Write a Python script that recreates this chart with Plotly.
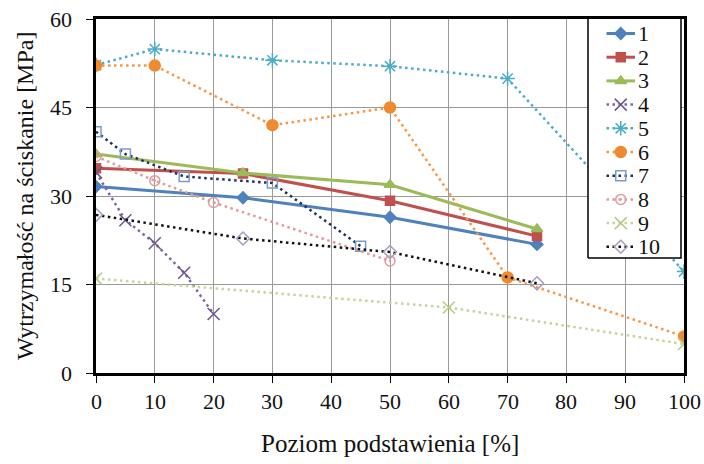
import plotly.graph_objects as go

# Substitution level [%] and compressive strength [MPa] for each mix series
x_1 = [0, 25, 50, 75]
y_1 = [31.6, 29.7, 26.4, 21.8]
x_2 = [0, 25, 50, 75]
y_2 = [34.7, 33.8, 29.2, 23.2]
x_3 = [0, 25, 50, 75]
y_3 = [37.1, 33.9, 31.9, 24.4]
x_4 = [0, 5, 10, 15, 20]
y_4 = [34.0, 25.9, 22.0, 17.0, 10.0]
x_5 = [0, 10, 30, 50, 70, 100]
y_5 = [52.2, 54.9, 53.0, 52.0, 49.9, 17.2]
x_6 = [0, 10, 30, 50, 70, 100]
y_6 = [52.1, 52.1, 42.0, 45.0, 16.2, 6.2]
x_7 = [0, 5, 15, 30, 45]
y_7 = [40.9, 37.1, 33.3, 32.2, 21.5]
x_8 = [0, 10, 20, 50]
y_8 = [36.7, 32.6, 28.9, 19.0]
x_9 = [0, 60, 100]
y_9 = [16.0, 11.1, 4.9]
x_10 = [0, 25, 50, 75]
y_10 = [26.8, 22.8, 20.5, 15.2]

series_names = ["1", "2", "3", "4", "5", "6", "7", "8", "9", "10"]
x_ticks = [0, 10, 20, 30, 40, 50, 60, 70, 80, 90, 100]
y_ticks = [0, 15, 30, 45, 60]
x_title = "Poziom podstawienia [%]"
y_title = "Wytrzymałość na ściskanie [MPa]"

xs_all = [x_1, x_2, x_3, x_4, x_5, x_6, x_7, x_8, x_9, x_10]
ys_all = [y_1, y_2, y_3, y_4, y_5, y_6, y_7, y_8, y_9, y_10]

# line colour, dash, marker symbol, marker colour, marker size
styles = [
    ("#4F81BD", "solid", "diamond", "#4F81BD", 9),
    ("#C0504D", "solid", "square", "#C0504D", 9),
    ("#9BBB59", "solid", "triangle-up", "#9BBB59", 10),
    ("#8064A2", "dot", "x-thin-open", "#6B5690", 12),
    ("#4BACC6", "dot", "asterisk-open", "#4BACC6", 12),
    ("#F79646", "dot", "circle", "#F08A30", 11),
    ("#1F2F5F", "dot", "square-open", "#7E9BC8", 10),
    ("#E29A9A", "dot", "circle-open-dot", "#E29A9A", 10),
    ("#C3D69B", "dot", "x-thin-open", "#B5CC85", 12),
    ("#111111", "dot", "diamond-open", "#A89BC0", 10),
]

serif = "Liberation Serif"
TEXT = "#111111"
DOT = "2.5px,3.5px"


def line_style(color, dash):
    solid = dash == "solid"
    return dict(color=color, width=3 if solid else 2.5,
                dash="solid" if solid else DOT)


def text_font(size):
    return dict(family=serif, size=size, color=TEXT)


fig = go.Figure()
for name, xs, ys, (color, dash, symbol, mcolor, msize) in zip(
        series_names, xs_all, ys_all, styles):
    fig.add_trace(go.Scatter(
        x=xs, y=ys, name=name, mode="lines+markers",
        line=line_style(color, dash),
        marker=dict(symbol=symbol, size=msize, color=mcolor,
                    line=dict(color=mcolor, width=1.5)),
        showlegend=False,
    ))

# Legend box on an invisible overlay axis measured in pixels of the plot area
PW, PH = 588, 354
box_x0, box_x1 = 492, 585
box_top, box_bottom = 355, 115
row_top, row_step = 339.5, 23.7
sample_x0, sample_x1 = 510.5, 539

fig.add_trace(go.Scatter(
    x=[box_x0, box_x1, box_x1, box_x0, box_x0],
    y=[box_bottom, box_bottom, box_top, box_top, box_bottom],
    mode="lines", fill="toself", fillcolor="white",
    line=dict(color="black", width=1.5),
    xaxis="x2", yaxis="y2", showlegend=False, hoverinfo="skip",
))

for i, (name, (color, dash, symbol, mcolor, msize)) in enumerate(
        zip(series_names, styles)):
    yy = row_top - i * row_step
    fig.add_trace(go.Scatter(
        x=[sample_x0, (sample_x0 + sample_x1) / 2, sample_x1], y=[yy, yy, yy],
        mode="lines", line=line_style(color, dash),
        xaxis="x2", yaxis="y2", showlegend=False, hoverinfo="skip",
    ))
    fig.add_trace(go.Scatter(
        x=[(sample_x0 + sample_x1) / 2], y=[yy], mode="markers",
        marker=dict(symbol=symbol, size=msize, color=mcolor,
                    line=dict(color=mcolor, width=1.5)),
        xaxis="x2", yaxis="y2", showlegend=False, hoverinfo="skip",
    ))
    fig.add_annotation(x=sample_x1 + 1, y=yy, xref="x2", yref="y2",
                       text=name, showarrow=False, xanchor="left",
                       yanchor="middle", font=text_font(22))

# Tick labels and axis titles as serif text placed on the axis scales
for v in x_ticks:
    fig.add_annotation(x=v, y=0, xref="x", yref="paper", text=str(v),
                       showarrow=False, xanchor="center", yanchor="middle",
                       yshift=-28, font=text_font(22))
for v in y_ticks:
    fig.add_annotation(x=0, y=v, xref="paper", yref="y", text=str(v),
                       showarrow=False, xanchor="right", yanchor="middle",
                       xshift=-22, font=text_font(22))
fig.add_annotation(x=0.5, y=0, xref="paper", yref="paper", text=x_title,
                   showarrow=False, xanchor="center", yanchor="middle",
                   yshift=-70, font=text_font(25))
fig.add_annotation(x=0, y=0.5, xref="paper", yref="paper", text=y_title,
                   showarrow=False, xanchor="center", yanchor="middle",
                   textangle=-90, xshift=-71, font=text_font(24))

axis_common = dict(
    showline=True, linecolor="black", linewidth=3, mirror=True,
    showgrid=True, gridcolor="#9a9a9a", gridwidth=1,
    ticks="outside", ticklen=7, tickcolor="black", tickwidth=1,
    zeroline=False, automargin=False, showticklabels=False,
)

fig.update_layout(
    width=704, height=464,
    margin=dict(l=96, r=20, t=19, b=91),
    font=text_font(21),
    paper_bgcolor="white", plot_bgcolor="white",
    xaxis=dict(range=[0, 100], tickvals=x_ticks, **axis_common),
    yaxis=dict(range=[0, 60], tickvals=y_ticks, **axis_common),
    xaxis2=dict(range=[0, PW], overlaying="x", visible=False, fixedrange=True),
    yaxis2=dict(range=[0, PH], overlaying="y", visible=False, fixedrange=True),
    showlegend=False,
)

fig.write_html("out.html")
